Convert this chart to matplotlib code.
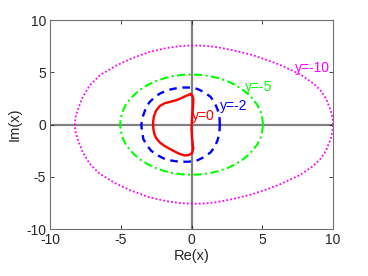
import matplotlib
matplotlib.use("Agg")
import matplotlib.pyplot as plt

plt.rcParams['font.family'] = ['Liberation Sans', 'DejaVu Sans']

# curve points (x = Re, y = Im)
# y=-10 (upper half, right to left; lower half mirrored)
mag_x_up = [10.0, 9.97, 9.85, 9.5, 9.1, 8.6, 7.7, 6.2, 5.2, 4.2, 3.0, 1.8, 0.9, 0.0,
            -0.9, -1.8, -3.0, -4.3, -5.4, -6.5, -7.2, -7.7, -8.05, -8.2, -8.25]
mag_y_up = [0.0, 0.6, 1.3, 2.5, 3.3, 3.95, 4.8, 5.75, 6.25, 6.7, 7.1, 7.42, 7.55, 7.58,
            7.5, 7.32, 6.95, 6.3, 5.6, 4.7, 3.75, 2.6, 1.4, 0.7, 0.0]

# y=-5
grn_x_up = [5.05, 5.0, 4.88, 4.67, 4.37, 4.0, 3.57, 3.08, 2.53, 1.93, 1.31, 0.66, 0.0,
            -0.66, -1.31, -1.93, -2.53, -3.08, -3.57, -4.0, -4.37, -4.67, -4.88, -5.0, -5.05]
grn_y_up = [0.0, 0.63, 1.24, 1.84, 2.4, 2.92, 3.39, 3.81, 4.16, 4.44, 4.64, 4.76, 4.8,
            4.76, 4.64, 4.44, 4.16, 3.81, 3.39, 2.92, 2.4, 1.84, 1.24, 0.63, 0.0]

# y=-2
blu_x = [2.0, 1.97, 1.85, 1.65, 1.35, 0.9, 0.4, -0.1, -0.6, -1.2, -1.7, -2.2, -2.6, -3.0,
         -3.25, -3.45, -3.55, -3.5, -3.4, -3.15, -2.85, -2.45, -1.95, -1.4, -0.8, -0.2,
         0.4, 0.9, 1.35, 1.65, 1.85, 1.97, 2.0]
blu_y = [0.0, 0.7, 1.4, 2.05, 2.65, 3.1, 3.42, 3.55, 3.55, 3.45, 3.3, 3.0, 2.65, 2.1,
         1.5, 0.75, 0.0, -0.7, -1.4, -2.0, -2.5, -2.9, -3.25, -3.45, -3.56, -3.55,
         -3.42, -3.1, -2.65, -2.1, -1.45, -0.75, 0.0]

# y=0
red_x = [-0.05, -0.35, -0.7, -1.05, -1.45, -1.9, -2.25, -2.5, -2.66, -2.72, -2.7, -2.63,
         -2.5, -2.25, -1.9, -1.5, -1.15, -0.85, -0.5, -0.2, 0.05, 0.12, 0.08, 0.03,
         0.0, 0.03, 0.08, 0.12, 0.12, 0.05, -0.05]
red_y = [2.92, 2.78, 2.55, 2.35, 2.2, 2.05, 1.78, 1.35, 0.8, 0.2, -0.4, -0.9,
         -1.3, -1.7, -2.05, -2.35, -2.6, -2.8, -2.95, -2.92, -2.7, -2.3, -1.8, -1.2,
         -0.4, 0.5, 1.3, 2.0, 2.5, 2.8, 2.92]

labels = ["y=-10", "y=-5", "y=-2", "y=0"]
label_x = [7.31, 3.78, 2.01, 0.06]
label_y = [5.43, 3.56, 1.8, 0.81]
colors = ["#ff00ff", "#00ff00", "#0000ff", "#ff0000"]

ticks = [-10, -5, 0, 5, 10]


def closed(xs_up, ys_up):
    # upper half plus mirrored lower half
    xs = list(xs_up) + list(xs_up[::-1])
    ys = list(ys_up) + [-v for v in ys_up[::-1]]
    return xs, ys


fig = plt.figure(figsize=(3.68, 2.76), dpi=100)
ax = fig.add_axes([0.136, 0.170, 0.769, 0.757])

ax.axhline(0, color="#808080", lw=1.6, zorder=1)
ax.axvline(0, color="#808080", lw=1.6, zorder=1)

mx, my = closed(mag_x_up, mag_y_up)
ax.plot(mx, my, color=colors[0], ls=(0, (1, 1.2)), lw=1.3, zorder=2)
gx, gy = closed(grn_x_up, grn_y_up)
ax.plot(gx, gy, color=colors[1], ls=(0, (4, 1.6, 1, 1.6)), lw=1.5, zorder=2)
ax.plot(blu_x, blu_y, color=colors[2], ls=(0, (3.2, 2.4)), lw=1.7, zorder=3)
ax.plot(red_x, red_y, color=colors[3], ls="-", lw=1.7, zorder=4)

for t, x, y, c in zip(labels, label_x, label_y, colors):
    ax.text(x, y, t, color=c, fontsize=10, ha="left", va="center", zorder=5)

ax.set_xlim(-10, 10)
ax.set_ylim(-10, 10)
ax.set_xticks(ticks)
ax.set_yticks(ticks)
ax.set_xticklabels([str(t) for t in ticks])
ax.set_yticklabels([str(t) for t in ticks])
ax.tick_params(direction="in", length=3, width=0.6, top=True, right=True,
               labelsize=10, colors="#262626", pad=3)
for s in ax.spines.values():
    s.set_color("#707070")
    s.set_linewidth(0.8)

ax.set_xlabel("Re(x)", fontsize=10.5, color="#262626", labelpad=1)
ax.set_ylabel("Im(x)", fontsize=10.5, color="#262626", labelpad=3)

fig.savefig("out.png", dpi=100)
